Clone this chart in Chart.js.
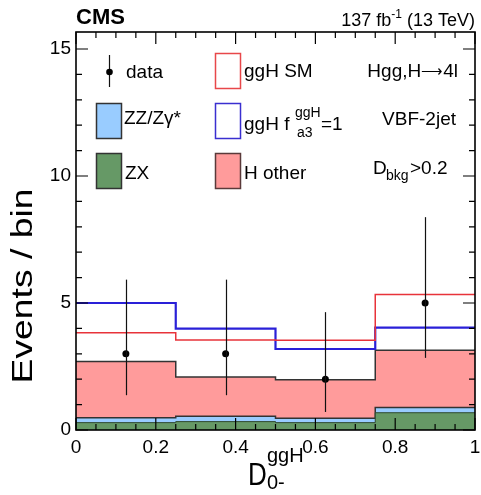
<!DOCTYPE html>
<html>
<head>
<meta charset="utf-8">
<script src="https://cdn.jsdelivr.net/npm/chart.js@4.4.0/dist/chart.umd.min.js"></script>
<style>
  html, body { margin: 0; padding: 0; background: #fff; }
  #wrap { width: 481px; height: 495px; }
</style>
</head>
<body>
<div id="wrap"><canvas id="myChart"></canvas></div>
<script>
// bins of D_0-^ggH
const binEdges = [0, 0.25, 0.5, 0.75, 1];
const binCenters = [0.125, 0.375, 0.625, 0.875];

// expected yields per bin (stack components)
const zxValues = [0.29, 0.33, 0.29, 0.68];
const zzValues = [0.19, 0.21, 0.17, 0.21];
const hOtherValues = [2.22, 1.55, 1.52, 2.25];

// signal hypotheses (stacked totals as drawn)
const ggHsmValues = [3.83, 3.54, 3.53, 5.33];
const ggHa3Values = [5.0, 3.99, 3.19, 4.03];

// observed data with asymmetric error bars
const dataCounts = [3, 3, 2, 5];
const dataLow = [1.37, 1.37, 0.71, 2.84];
const dataHigh = [5.92, 5.92, 4.64, 8.38];

const xTicks = [0, 0.2, 0.4, 0.6, 0.8, 1];
const yTicks = [0, 5, 10, 15];

const FONT = "'Liberation Sans', Arial, Helvetica, sans-serif";

// histogram bins -> step points (last value repeated at the right edge)
const steps = vals => binEdges.map((x, i) => ({ x: x, y: vals[Math.min(i, vals.length - 1)] }));

const zxTop = zxValues;
const zzTop = zxValues.map((v, i) => v + zzValues[i]);
const hTop = zzTop.map((v, i) => v + hOtherValues[i]);

const frameAndTicks = {
  id: 'frameAndTicks',
  afterDatasetsDraw(chart) {
    const ctx = chart.ctx;
    const { left, right, top, bottom } = chart.chartArea;
    const xs = chart.scales.x, ys = chart.scales.y;

    // error bars
    ctx.save();
    ctx.strokeStyle = '#111';
    ctx.lineWidth = 1.2;
    binCenters.forEach((c, i) => {
      const px = Math.round(xs.getPixelForValue(c)) + 0.5;
      ctx.beginPath();
      ctx.moveTo(px, ys.getPixelForValue(dataLow[i]));
      ctx.lineTo(px, ys.getPixelForValue(dataHigh[i]));
      ctx.stroke();
    });
    ctx.restore();

    ctx.save();
    ctx.strokeStyle = '#000';
    ctx.lineWidth = 1.2;
    ctx.beginPath();
    for (let i = 0; i <= 20; i++) {
      const px = xs.getPixelForValue(i * 0.05);
      const len = i % 4 === 0 ? 12 : 6;
      ctx.moveTo(px, bottom); ctx.lineTo(px, bottom - len);
      ctx.moveTo(px, top); ctx.lineTo(px, top + len);
    }
    for (let i = 0; i <= 15; i++) {
      const py = ys.getPixelForValue(i);
      const len = i % 5 === 0 ? 12 : 6;
      ctx.moveTo(left, py); ctx.lineTo(left + len, py);
      ctx.moveTo(right, py); ctx.lineTo(right - len, py);
    }
    ctx.stroke();
    ctx.lineWidth = 1.6;
    ctx.strokeRect(left, top, right - left, bottom - top);
    ctx.restore();
  }
};

const labelsPlugin = {
  id: 'labelsPlugin',
  afterDraw(chart) {
    const ctx = chart.ctx;
    ctx.save();
    ctx.fillStyle = '#000';
    ctx.textBaseline = 'alphabetic';

    // header
    ctx.font = 'bold 22px ' + FONT;
    ctx.textAlign = 'left';
    ctx.fillText('CMS', 76, 24);
    ctx.font = '18px ' + FONT;
    ctx.textAlign = 'right';
    const tail = ' (13 TeV)';
    const wTail = ctx.measureText(tail).width;
    ctx.fillText(tail, 475, 26);
    ctx.font = '12px ' + FONT;
    const wSup = ctx.measureText('-1').width;
    ctx.fillText('-1', 475 - wTail, 18);
    ctx.font = '18px ' + FONT;
    ctx.fillText('137 fb', 475 - wTail - wSup, 26);

    // y title (stretched along its length like the original)
    ctx.save();
    ctx.font = '29px ' + FONT;
    ctx.textAlign = 'center';
    const yt = 'Events / bin';
    const wy = ctx.measureText(yt).width;
    ctx.translate(32, 286);
    ctx.rotate(-Math.PI / 2);
    ctx.scale(195 / wy, 1);
    ctx.fillText(yt, 0, 0);
    ctx.restore();

    // x title D^ggH_0-
    ctx.save();
    ctx.textAlign = 'left';
    ctx.font = '26px ' + FONT;
    ctx.translate(248, 485);
    ctx.scale(1, 1.2);
    ctx.fillText('D', 0, 0);
    ctx.restore();
    ctx.textAlign = 'left';
    ctx.font = '20px ' + FONT;
    ctx.fillText('ggH', 267, 462);
    ctx.fillText('0-', 267, 489);

    // legend
    ctx.font = '19px ' + FONT;
    ctx.strokeStyle = '#111';
    ctx.lineWidth = 1.2;
    ctx.beginPath(); ctx.moveTo(109.5, 55); ctx.lineTo(109.5, 87); ctx.stroke();
    ctx.beginPath(); ctx.arc(109.5, 72, 3.3, 0, Math.PI * 2); ctx.fill();
    ctx.fillText('data', 126, 78);

    const box = (x, y, fill, stroke) => {
      ctx.lineWidth = 1.5;
      if (fill) { ctx.fillStyle = fill; ctx.fillRect(x, y, 25, 35); }
      ctx.strokeStyle = stroke;
      ctx.strokeRect(x, y, 25, 35);
      ctx.fillStyle = '#000';
    };
    box(96.5, 103.5, '#99ccff', '#333');
    ctx.fillText('ZZ/Z\u03b3*', 124, 124);
    box(96.5, 153.5, '#669966', '#333');
    ctx.fillText('ZX', 125, 179);

    box(215.5, 53.5, null, '#e8474a');
    ctx.fillText('ggH SM', 244, 77);
    box(215.5, 103.5, null, '#3a2fd0');
    ctx.fillText('ggH f', 244, 130);
    ctx.font = '14px ' + FONT;
    ctx.fillText('ggH', 295, 117);
    ctx.fillText('a3', 297, 137);
    ctx.font = '19px ' + FONT;
    ctx.fillText('=1', 321, 130);
    box(215.5, 153.5, '#ff9b9b', '#5a3a3a');
    ctx.fillText('H other', 244, 179);

    ctx.textAlign = 'right';
    // Hgg,H -> 4l with a long arrow
    const tailTxt = '4l';
    const wT = ctx.measureText(tailTxt).width;
    ctx.fillText(tailTxt, 458, 77);
    ctx.font = '15px ' + FONT;
    const arrow = '\u27f6';
    const wA = ctx.measureText(arrow).width;
    ctx.fillText(arrow, 458 - wT, 76);
    ctx.font = '19px ' + FONT;
    ctx.fillText('Hgg,H', 458 - wT - wA, 77);
    ctx.fillText('VBF-2jet', 456, 125);
    ctx.textAlign = 'left';
    ctx.fillText('D', 373, 174);
    ctx.font = '14px ' + FONT;
    ctx.fillText('bkg', 386, 180);
    ctx.font = '19px ' + FONT;
    ctx.fillText('>0.2', 410, 174);
    ctx.restore();
  }
};

const ctx = document.getElementById('myChart');
new Chart(ctx, {
  type: 'line',
  data: {
    datasets: [
      {
        label: 'data', type: 'scatter', order: 0,
        data: binCenters.map((x, i) => ({ x: x, y: dataCounts[i] })),
        pointRadius: 3.5, pointBackgroundColor: '#000', pointBorderWidth: 0, showLine: false
      },
      {
        label: 'ggH SM', order: 1, data: steps(ggHsmValues), stepped: 'before',
        borderColor: '#e8333a', borderWidth: 1.5, pointRadius: 0, fill: false
      },
      {
        label: 'ggH fa3=1', order: 2, data: steps(ggHa3Values), stepped: 'before',
        borderColor: '#2a20d8', borderWidth: 2.2, pointRadius: 0, fill: false
      },
      {
        label: 'ZX', order: 3, data: steps(zxTop), stepped: 'before',
        borderColor: '#2f4a2f', borderWidth: 1, pointRadius: 0,
        fill: 'origin', backgroundColor: '#669966'
      },
      {
        label: 'ZZ/Zgamma*', order: 4, data: steps(zzTop), stepped: 'before',
        borderColor: '#333', borderWidth: 1.5, pointRadius: 0,
        fill: 'origin', backgroundColor: '#99ccff'
      },
      {
        label: 'H other', order: 5, data: steps(hTop), stepped: 'before',
        borderColor: '#333', borderWidth: 1.5, pointRadius: 0,
        fill: 'origin', backgroundColor: '#ff9b9b'
      }
    ]
  },
  options: {
    responsive: true,
    maintainAspectRatio: false,
    animation: false,
    layout: { padding: { left: 0, right: 6, top: 32, bottom: 0 } },
    plugins: { legend: { display: false }, tooltip: { enabled: false } },
    scales: {
      x: {
        type: 'linear', min: 0, max: 1,
        grid: { display: false, drawTicks: false },
        border: { display: false },
        afterBuildTicks: axis => { axis.ticks = xTicks.map(v => ({ value: v })); },
        afterFit: axis => { axis.height = 65; axis.paddingLeft = 0; axis.paddingRight = 0; },
        ticks: {
          font: { family: FONT, size: 19 }, color: '#000', padding: 6,
          maxRotation: 0, autoSkip: false,
          callback: v => String(+v.toFixed(1))
        }
      },
      y: {
        type: 'linear', min: 0, max: 15.67,
        grid: { display: false, drawTicks: false },
        border: { display: false },
        afterBuildTicks: axis => { axis.ticks = yTicks.map(v => ({ value: v })); },
        afterFit: axis => { axis.width = 76; axis.paddingTop = 0; axis.paddingBottom = 0; },
        ticks: {
          font: { family: FONT, size: 19 }, color: '#000', padding: 5,
          callback: v => String(v)
        }
      }
    }
  },
  plugins: [frameAndTicks, labelsPlugin]
});
</script>
</body>
</html>
